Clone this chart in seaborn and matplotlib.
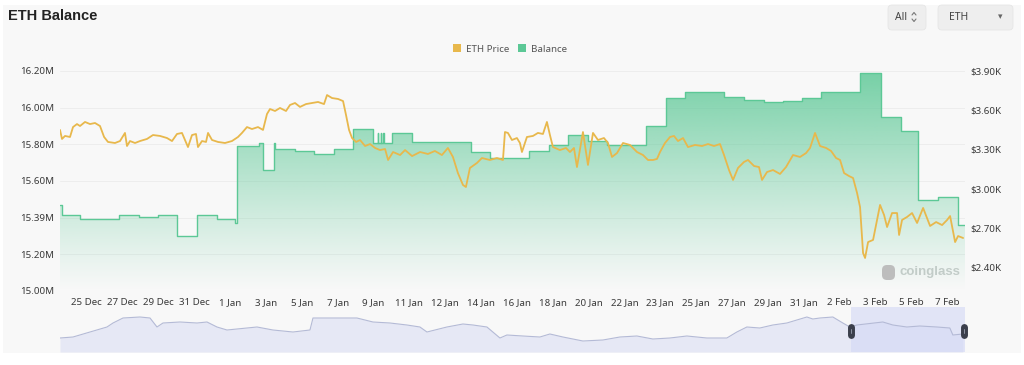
import numpy as np
import matplotlib
matplotlib.use("Agg")
import matplotlib.pyplot as plt
import seaborn as sns
import pandas as pd
from matplotlib.patches import FancyBboxPatch, Rectangle, Patch
from matplotlib.lines import Line2D
from matplotlib.transforms import IdentityTransform
from matplotlib.colors import to_rgb

# ---------------- data ----------------
x_labels = ["25 Dec", "27 Dec", "29 Dec", "31 Dec", "1 Jan", "3 Jan", "5 Jan", "7 Jan",
            "9 Jan", "11 Jan", "12 Jan", "14 Jan", "16 Jan", "18 Jan", "20 Jan", "22 Jan",
            "23 Jan", "25 Jan", "27 Jan", "29 Jan", "31 Jan", "2 Feb", "3 Feb", "5 Feb", "7 Feb"]

# position along the category axis (label index units), balance in millions ETH
balance_t = [-0.745, -0.70, -0.187, 0.904, 1.462, 1.993, 2.523, 3.081, 3.639, 4.15, 4.197,
             4.810, 4.922, 5.229, 5.25, 5.815, 6.345, 6.903, 7.433, 7.991, 8.12, 8.14, 8.20,
             8.22, 8.28, 8.30, 8.521, 9.079, 10.725, 11.255, 12.343, 12.900, 13.430, 13.988,
             14.518, 15.606, 16.163, 16.693, 17.781, 18.339, 18.897, 19.427, 19.957, 20.487,
             21.575, 22.161, 22.719, 23.193, 23.751, 24.309, 24.504]
balance_m = [15.469, 15.415, 15.393, 15.415, 15.404, 15.415, 15.300, 15.415, 15.393, 15.371, 15.791,
             15.807, 15.660, 15.807, 15.775, 15.764, 15.747, 15.775, 15.884, 15.807, 15.862, 15.807, 15.862,
             15.807, 15.862, 15.807, 15.862, 15.813, 15.758, 15.725, 15.764, 15.796, 15.851, 15.818,
             15.796, 15.900, 16.053, 16.085, 16.058, 16.042, 16.031, 16.036, 16.053, 16.085,
             16.189, 15.949, 15.873, 15.496, 15.513, 15.360, 15.360]

# ETH price in thousands USD
price_t = [-0.745, -0.689, -0.605, -0.466, -0.382, -0.271, -0.187, -0.047, 0.092, 0.232, 0.371,
           0.485, 0.594, 0.789, 0.929, 1.068, 1.124, 1.208, 1.348, 1.487, 1.682, 1.850, 2.045,
           2.240, 2.380, 2.519, 2.658, 2.826, 2.938, 3.049, 3.105, 3.217, 3.329, 3.385, 3.496,
           3.663, 3.858, 4.053, 4.221, 4.332, 4.472, 4.611, 4.779, 4.919, 5.030, 5.114, 5.254,
           5.393, 5.561, 5.672, 5.812, 5.951, 6.119, 6.286, 6.454, 6.621, 6.705, 6.845, 7.012,
           7.152, 7.235, 7.319, 7.403, 7.515, 7.626, 7.766, 7.905, 8.045, 8.184, 8.324, 8.408,
           8.547, 8.743, 8.882, 9.078, 9.301, 9.520, 9.715, 9.910, 10.078, 10.218, 10.357,
           10.497, 10.580, 10.692, 10.887, 11.027, 11.250, 11.445, 11.613, 11.669, 11.752,
           11.864, 12.003, 12.087, 12.143, 12.282, 12.450, 12.589, 12.729, 12.840, 12.924,
           13.008, 13.203, 13.371, 13.482, 13.594, 13.678, 13.845, 13.985, 14.125, 14.264,
           14.431, 14.543, 14.655, 14.795, 14.962, 15.157, 15.353, 15.520, 15.660, 15.799,
           15.911, 15.995, 16.134, 16.274, 16.385, 16.497, 16.637, 16.776, 16.972, 17.167,
           17.334, 17.502, 17.669, 17.781, 17.920, 18.032, 18.171, 18.339, 18.450, 18.618,
           18.757, 18.841, 18.981, 19.148, 19.343, 19.511, 19.706, 19.901, 20.069, 20.181,
           20.320, 20.460, 20.628, 20.767, 20.907, 21.018, 21.130, 21.269, 21.381, 21.493,
           21.576, 21.660, 21.716, 21.800, 21.939, 22.051, 22.134, 22.246, 22.330, 22.469,
           22.609, 22.665, 22.748, 22.888, 23.027, 23.167, 23.335, 23.530, 23.698, 23.865,
           24.005, 24.088, 24.228, 24.311, 24.451]
price_k = [3.449, 3.380, 3.403, 3.395, 3.471, 3.494, 3.479, 3.510, 3.494, 3.502, 3.479,
           3.395, 3.357, 3.349, 3.364, 3.426, 3.326, 3.364, 3.349, 3.364, 3.380, 3.410, 3.403,
           3.387, 3.364, 3.418, 3.426, 3.318, 3.410, 3.418, 3.318, 3.364, 3.357, 3.426, 3.372,
           3.357, 3.349, 3.364, 3.395, 3.426, 3.471, 3.456, 3.471, 3.449, 3.571, 3.609, 3.594,
           3.617, 3.594, 3.640, 3.655, 3.625, 3.647, 3.655, 3.663, 3.647, 3.716, 3.693, 3.686,
           3.670, 3.563, 3.449, 3.387, 3.357, 3.372, 3.326, 3.341, 3.311, 3.295, 3.303, 3.219,
           3.280, 3.257, 3.295, 3.249, 3.280, 3.265, 3.288, 3.257, 3.311, 3.242, 3.119,
           3.028, 3.012, 3.158, 3.196, 3.234, 3.219, 3.234, 3.219, 3.433, 3.426,
           3.372, 3.387, 3.349, 3.280, 3.395, 3.403, 3.426, 3.418, 3.510, 3.410,
           3.318, 3.295, 3.311, 3.280, 3.311, 3.165, 3.433, 3.181, 3.426, 3.372,
           3.387, 3.349, 3.242, 3.272, 3.349, 3.334, 3.280, 3.257, 3.219, 3.219,
           3.227, 3.280, 3.349, 3.395, 3.403, 3.364, 3.387, 3.318, 3.334, 3.326,
           3.341, 3.326, 3.341, 3.257, 3.142, 3.066, 3.158, 3.204, 3.219, 3.173,
           3.165, 3.066, 3.127, 3.142, 3.112, 3.165, 3.257, 3.242, 3.272, 3.311,
           3.426, 3.326, 3.311, 3.288, 3.234, 3.219, 3.119, 3.096, 3.081, 2.966,
           2.859, 2.507, 2.469, 2.591, 2.607, 2.760, 2.875, 2.798, 2.706, 2.813,
           2.813, 2.645, 2.760, 2.783, 2.813, 2.737, 2.852, 2.714, 2.744, 2.721,
           2.760, 2.790, 2.591, 2.637, 2.622]

# overview (navigator) series, relative level
nav_t = [-0.745, -0.382, 0.092, 0.566, 0.734, 1.013, 1.487, 1.766, 1.961, 2.128, 2.603, 3.077,
         3.356, 3.635, 3.914, 4.472, 4.751, 5.197, 5.755, 6.229, 6.313, 6.871, 7.540, 7.987,
         8.461, 8.935, 9.297, 9.493, 10.050, 10.497, 10.776, 11.166, 11.529, 11.724, 12.170,
         12.644, 12.923, 13.286, 13.844, 14.402, 14.876, 15.350, 15.796, 16.270, 16.744,
         17.302, 17.860, 18.139, 18.418, 18.780, 19.143, 19.534, 19.813, 20.092, 20.259,
         20.455, 20.817, 21.096, 21.292, 21.487, 22.212, 22.491, 22.881, 23.244, 23.718,
         24.081, 24.165, 24.444]
nav_level = [14, 15, 20, 25, 29, 34, 35, 34, 25, 29, 30, 29, 30, 25, 22, 24, 25, 22, 20, 22,
             34, 34, 34, 30, 29, 27, 25, 20, 25, 28, 27, 25, 14, 17, 16, 15, 18, 15, 11, 12,
             15, 16, 13, 14, 16, 14, 14, 20, 25, 24, 27, 29, 32, 35, 33, 34, 35, 29, 25, 27,
             30, 27, 25, 26, 25, 24, 17, 18]

left_ticks = [16.20, 16.00, 15.80, 15.60, 15.40, 15.20, 15.00]
left_tick_labels = ["16.20M", "16.00M", "15.80M", "15.60M", "15.39M", "15.20M", "15.00M"]
right_ticks = [3.90, 3.60, 3.30, 3.00, 2.70, 2.40]
right_tick_labels = ["$3.90K", "$3.60K", "$3.30K", "$3.00K", "$2.70K", "$2.40K"]

# ---------------- style ----------------
sns.set_theme(style="white")
plt.rcParams['font.family'] = ['Noto Sans', 'DejaVu Sans']

PRICE_C = "#e8b84c"
BAL_C = "#5cc896"
TXT = "#3a3a3a"
W, H = 1024, 365

fig = plt.figure(figsize=(W / 100, H / 100), dpi=100)
fig.patch.set_facecolor("white")
fig.patches.append(Rectangle((3 / W, 1 - 353 / H), (1021 - 3) / W, (353 - 5) / H,
                             transform=fig.transFigure, facecolor="#f8f8f8",
                             edgecolor="none", zorder=-10))

XMIN, XMAX = -0.745, 24.504
ax = fig.add_axes([60 / W, 1 - 291 / H, 905 / W, 220 / H])
ax.set_facecolor("none")
ax.set_xlim(XMIN, XMAX)
ax.set_ylim(15.0, 16.2)

# gradient-filled balance area
poly = ax.fill_between(balance_t, balance_m, 15.0, step="post", facecolor="none",
                       edgecolor="none")
rgb = np.array(to_rgb(BAL_C))
n = 256
alpha = np.linspace(0.0, 0.85, n) ** 1.1
grad = np.zeros((n, 2, 4))
grad[:, :, :3] = rgb
grad[:, :, 3] = alpha[:, None]
im = ax.imshow(grad, extent=[XMIN, XMAX, 15.0, 16.2], origin="lower", aspect="auto",
               zorder=1, interpolation="bilinear")
im.set_clip_path(poly.get_paths()[0], transform=ax.transData)

df_bal = pd.DataFrame({"t": balance_t, "balance": balance_m})
sns.lineplot(data=df_bal, x="t", y="balance", ax=ax, color=BAL_C, lw=1.0,
             drawstyle="steps-post", estimator=None, sort=False, zorder=3)

for v in left_ticks:
    ax.axhline(v, color="#ebebeb", lw=0.6, zorder=0)

ax.set_yticks(left_ticks)
ax.set_yticklabels(left_tick_labels)
ax.set_xticks(range(len(x_labels)))
ax.set_xticklabels(x_labels)
ax.tick_params(axis="both", length=0, labelsize=7, colors=TXT)
ax.tick_params(axis="y", pad=4)
ax.tick_params(axis="x", pad=5)
ax.set_xlabel("")
ax.set_ylabel("")
for s in ax.spines.values():
    s.set_visible(False)

ax2 = ax.twinx()
ax2.set_ylim(3.90 - 220 * 0.3 / 39.2, 3.90)
df_price = pd.DataFrame({"t": price_t, "price": price_k})
sns.lineplot(data=df_price, x="t", y="price", ax=ax2, color=PRICE_C, lw=1.3,
             estimator=None, sort=False, zorder=4)
ax2.set_yticks(right_ticks)
ax2.set_yticklabels(right_tick_labels)
ax2.tick_params(axis="y", length=0, labelsize=7, colors=TXT, pad=4)
ax2.set_ylabel("")
for s in ax2.spines.values():
    s.set_visible(False)
ax2.set_xlim(XMIN, XMAX)

# watermark
fig.text(900 / W, 1 - 272 / H, "coinglass", fontsize=9.5, fontweight="bold",
         family=["Liberation Sans", "DejaVu Sans"], color="#c2ccc8", va="center", ha="left")
fig.patches.append(FancyBboxPatch((882, H - 280), 13, 15, boxstyle="round,pad=0,rounding_size=5",
                                  transform=IdentityTransform(), facecolor="#bdbdbd",
                                  edgecolor="none"))

# navigator
axn = fig.add_axes([60 / W, 1 - 352 / H, 905 / W, 45 / H])
axn.set_facecolor("none")
axn.set_xlim(XMIN, XMAX)
axn.set_ylim(0, 45)
axn.fill_between(nav_t, nav_level, 0, color="#e6e8f5", lw=0)
sns.lineplot(x=nav_t, y=nav_level, ax=axn, color="#b4bad6", lw=0.8, estimator=None, sort=False)
sel0 = (851 - 86.7) / 35.85
axn.axvspan(sel0, XMAX, color="#d3d8f6", alpha=0.6, lw=0)
for xh in (sel0, XMAX - 0.02):
    axn.plot([xh, xh], [17, 25], lw=5, color="#3b3f4c", solid_capstyle="round", zorder=5,
             clip_on=False)
    axn.plot([xh, xh], [19, 23], lw=0.6, color="#9aa0b0", zorder=6, clip_on=False)
axn.set_xticks([])
axn.set_yticks([])
axn.set_xlabel("")
axn.set_ylabel("")
for s in axn.spines.values():
    s.set_visible(False)

# title
fig.text(8 / W, 1 - 16 / H, "ETH Balance", fontsize=10.5, fontweight="bold", color="#222222",
         family=["Liberation Sans", "DejaVu Sans"], va="center", ha="left")

# top right controls
for (x0, x1) in [(888, 926), (938, 1013)]:
    fig.patches.append(FancyBboxPatch((x0, H - 30), x1 - x0, 25,
                                      boxstyle="round,pad=0,rounding_size=4",
                                      transform=IdentityTransform(), facecolor="#eeeeee",
                                      edgecolor="#e6e6e6", lw=0.6))
fig.text(895 / W, 1 - 17 / H, "All", fontsize=7.5, color="#444444", va="center")
# up/down chevron icon
cx, cy = 914, H - 17
fig.add_artist(Line2D([cx - 2, cx, cx + 2], [cy + 2, cy + 4.5, cy + 2], lw=0.8,
                      color="#777777", transform=IdentityTransform()))
fig.add_artist(Line2D([cx - 2, cx, cx + 2], [cy - 2, cy - 4.5, cy - 2], lw=0.8,
                      color="#777777", transform=IdentityTransform()))
fig.text(949 / W, 1 - 17 / H, "ETH", fontsize=7.5, color="#444444", va="center")
fig.text(998 / W, 1 - 17 / H, "\u25be", fontsize=6.5, color="#666666", va="center")

# legend
handles = [Patch(facecolor=PRICE_C, edgecolor="none", label="ETH Price"),
           Patch(facecolor=BAL_C, edgecolor="none", label="Balance")]
fig.legend(handles=handles, loc="center", bbox_to_anchor=(510 / W, 1 - 49 / H), ncol=2,
           frameon=False, fontsize=7, handlelength=0.8, handleheight=0.8,
           handletextpad=0.5, columnspacing=1.0, labelcolor="#555555")

fig.savefig("out.png", dpi=100, facecolor=fig.get_facecolor())
